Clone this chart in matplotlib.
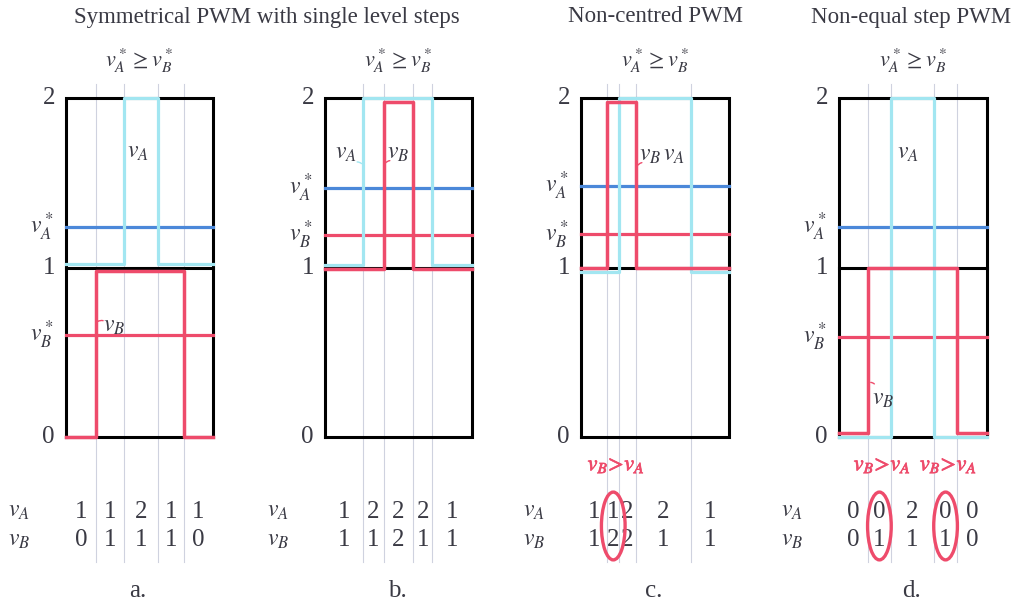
import numpy as np
import matplotlib.pyplot as plt
import matplotlib.patheffects as pe
from matplotlib.patches import Ellipse

plt.rcParams['mathtext.fontset'] = 'stix'
plt.rcParams['font.family'] = ['Liberation Serif', 'DejaVu Serif']

W, H = 1019, 609

# switching instants (fraction of the PWM period) for each panel
switch_a = [0.204, 0.395, 0.626, 0.80]
switch_b = [0.26, 0.40, 0.60, 0.73]
switch_c = [0.176, 0.26, 0.37, 0.74]
switch_d = [0.196, 0.35, 0.64, 0.80]

# phase levels in each interval (also printed in the tables)
vA_a = [1, 1, 2, 1, 1]
vB_a = [0, 1, 1, 1, 0]
vA_b = [1, 2, 2, 2, 1]
vB_b = [1, 1, 2, 1, 1]
vA_c = [1, 1, 2, 2, 1]
vB_c = [1, 2, 2, 1, 1]
vA_d = [0, 0, 2, 0, 0]
vB_d = [0, 1, 1, 1, 0]

# reference voltages
vA_ref = [1.24, 1.47, 1.48, 1.24]
vB_ref = [0.60, 1.19, 1.195, 0.59]

# intervals where vB > vA
circled = [[], [], [1], [1, 3]]

letters = ['a.', 'b.', 'c.', 'd.']
switches = [switch_a, switch_b, switch_c, switch_d]
vAs = [vA_a, vA_b, vA_c, vA_d]
vBs = [vB_a, vB_b, vB_c, vB_d]

CYAN = '#a2e6f1'
BLUE = '#4b88d9'
RED = '#ee4b6b'
GRID = '#cfd2df'
TXT = '#3a3a44'

# box pixel extents (left, right) - all share top 98 / bottom 437
lefts = [66, 325, 581, 839]
rights = [213, 472, 729, 987]
top, bot = 98, 437
# small shifts so overlapping traces stay visible
offA = [0.02, 0.015, -0.025, 0.0]     # vA at level 1
offB = [-0.02, -0.008, -0.005, 0.0]   # vB at level 1
inwB = [0.0, 0.025, 0.025, 0.025]     # vB pulled inside the box at 0 / 2


def shifted(vals, off1, inw):
    out = []
    for v in vals + [vals[-1]]:
        if v == 1:
            out.append(v + off1)
        elif v == 2:
            out.append(v - inw)
        else:
            out.append(v + inw)
    return np.array(out)


fig = plt.figure(figsize=(W / 100, H / 100), dpi=100)

axes = []
for i in range(4):
    ax = fig.add_axes([lefts[i] / W, (H - bot) / H, (rights[i] - lefts[i]) / W, (bot - top) / H])
    ax.set_xlim(0, 1)
    ax.set_ylim(0, 2)
    ax.axis('off')
    axes.append(ax)

    edges = np.array([0] + switches[i] + [1])
    mids = (edges[:-1] + edges[1:]) / 2

    # thin guide lines at switching instants
    for s in switches[i]:
        ax.plot([s, s], [2.08, -0.74], color=GRID, lw=0.8, zorder=1, clip_on=False)

    # box and the level-1 line
    ax.plot([0, 1, 1, 0, 0], [0, 0, 2, 2, 0], color='black', lw=2.2, zorder=2,
            clip_on=False, solid_joinstyle='miter')
    ax.plot([0, 1], [1, 1], color='black', lw=2.2, zorder=2, clip_on=False)

    # reference levels
    ax.plot([0, 1], [vA_ref[i]] * 2, color=BLUE, lw=2.3, zorder=3, clip_on=False)
    ax.plot([0, 1], [vB_ref[i]] * 2, color=RED, lw=2.3, zorder=3, clip_on=False)

    # pwm waveforms
    ya = shifted(vAs[i], offA[i], 0.0)
    yb = shifted(vBs[i], offB[i], inwB[i])
    ax.step(edges, ya, where='post', color=CYAN, lw=2.3, zorder=4, clip_on=False)
    ax.step(edges, yb, where='post', color=RED, lw=2.5, zorder=5, clip_on=False)

    # y tick labels
    for lv in [0, 1, 2]:
        ax.text(-0.075, lv, str(lv), ha='right', va='center', fontsize=18, color=TXT)
    ax.text(-0.085, vA_ref[i], r'$v_A^*$', ha='right', va='center', fontsize=17, color=TXT)
    ax.text(-0.085, vB_ref[i], r'$v_B^*$', ha='right', va='center', fontsize=17, color=TXT)

    # condition above box
    ax.text(0.5, 2.22, r'$v_A^*\geq v_B^*$', ha='center', va='center', fontsize=16, color=TXT)

    # table
    ax.text(-0.32, -0.44, r'$v_A$', ha='center', va='center', fontsize=17, color=TXT)
    ax.text(-0.32, -0.61, r'$v_B$', ha='center', va='center', fontsize=17, color=TXT)
    for m, a_val, b_val in zip(mids, vAs[i], vBs[i]):
        ax.text(m, -0.44, str(a_val), ha='center', va='center', fontsize=18, color=TXT)
        ax.text(m, -0.61, str(b_val), ha='center', va='center', fontsize=18, color=TXT)

    for k in circled[i]:
        ax.add_patch(Ellipse((mids[k], -0.525), 0.16, 0.40, fill=False,
                             edgecolor=RED, lw=2.4, clip_on=False, zorder=6))
        ax.text(mids[k] + 0.02, -0.17, r'$v_B\!>\!v_A$', ha='center', va='center',
                fontsize=16, color=RED,
                path_effects=[pe.withStroke(linewidth=0.5, foreground=RED)])

    ax.text(0.49, -0.91, letters[i], ha='center', va='center', fontsize=18, color=TXT)


# waveform labels with little leader hooks
def label(ax, x, y, s, hx, hy, color):
    ax.text(x, y, s, ha='center', va='center', fontsize=17, color=TXT, zorder=7)
    if hx is not None:
        ax.annotate('', xy=(hx[0], hy[0]), xytext=(hx[1], hy[1]),
                    arrowprops=dict(arrowstyle='-', color=color, lw=1.0,
                                    connectionstyle='arc3,rad=0.4'))


label(axes[0], 0.49, 1.68, r'$v_A$', None, None, CYAN)
label(axes[0], 0.33, 0.65, r'$v_B$', (0.2, 0.27), (0.67, 0.68), RED)
label(axes[1], 0.145, 1.67, r'$v_A$', (0.2, 0.26), (1.62, 1.60), CYAN)
label(axes[1], 0.50, 1.67, r'$v_B$', (0.40, 0.46), (1.60, 1.63), RED)
label(axes[2], 0.47, 1.66, r'$v_B$', (0.37, 0.43), (1.58, 1.62), RED)
label(axes[2], 0.63, 1.66, r'$v_A$', None, None, CYAN)
label(axes[3], 0.466, 1.67, r'$v_A$', None, None, CYAN)
label(axes[3], 0.30, 0.22, r'$v_B$', (0.196, 0.25), (0.32, 0.30), RED)

# titles
fig.text(267 / W, 1 - 17 / H, 'Symmetrical PWM with single level steps', ha='center',
         va='center', fontsize=16.5, color=TXT)
fig.text(655 / W, 1 - 17 / H, 'Non-centred PWM', ha='center', va='center', fontsize=16.5, color=TXT)
fig.text(911 / W, 1 - 17 / H, 'Non-equal step PWM', ha='center', va='center', fontsize=16.5, color=TXT)

fig.savefig('out.png', dpi=100, facecolor='white')
